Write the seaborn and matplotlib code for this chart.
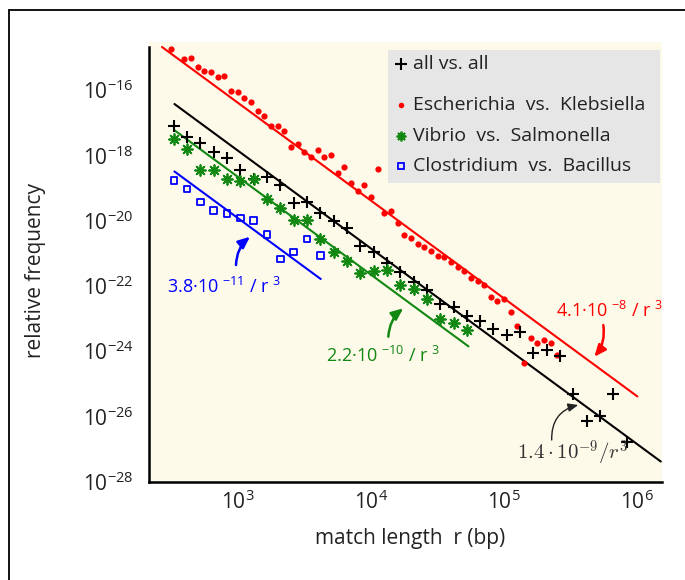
# match-length distributions between bacterial genomes, with 1/r^3 fits
import numpy as np
import pandas as pd
import seaborn as sns
import matplotlib.pyplot as plt
from matplotlib.lines import Line2D
from matplotlib.patches import Rectangle
from matplotlib.ticker import FixedLocator, LogLocator, LogFormatterSciNotation, NullFormatter

# log10(match length) and log10(relative frequency)
ek_logr = [2.50, 2.60, 2.65, 2.70, 2.75, 2.80, 2.85, 2.90, 2.95, 3.00,
           3.05, 3.10, 3.15, 3.20, 3.25, 3.30, 3.35, 3.40, 3.45, 3.50,
           3.55, 3.60, 3.65, 3.70, 3.75, 3.80, 3.85, 3.90, 3.95, 4.00,
           4.05, 4.10, 4.15, 4.20, 4.25, 4.30, 4.35, 4.40, 4.45, 4.50,
           4.55, 4.60, 4.65, 4.70, 4.75, 4.80, 4.85, 4.90, 4.95, 5.00,
           5.05, 5.10, 5.15, 5.20, 5.25, 5.30, 5.35, 5.40]
ek_logf = [-14.74, -15.06, -15.02, -15.29, -15.41, -15.44, -15.59, -15.56, -16.02, -16.06,
           -16.24, -16.37, -16.63, -16.80, -17.10, -17.10, -17.26, -17.76, -17.66, -17.90,
           -18.05, -17.84, -18.04, -17.99, -18.55, -18.37, -18.86, -19.09, -18.91, -19.27,
           -18.43, -19.77, -19.70, -20.08, -20.43, -20.53, -20.73, -20.82, -20.92, -21.08,
           -21.13, -21.28, -21.43, -21.55, -21.77, -21.85, -21.97, -22.34, -22.47, -22.40,
           -22.80, -23.22, -24.35, -23.61, -23.74, -23.66, -23.76, -24.12]

all_logr = [2.52, 2.62, 2.72, 2.82, 2.92, 3.02, 3.12, 3.22, 3.32, 3.42,
            3.52, 3.62, 3.72, 3.82, 3.92, 4.02, 4.12, 4.22, 4.32, 4.42,
            4.52, 4.62, 4.72, 4.82, 4.92, 5.02, 5.12, 5.22, 5.32, 5.42,
            5.52, 5.62, 5.72, 5.82, 5.92]
all_logf = [-17.09, -17.43, -17.63, -17.90, -18.08, -18.45, -18.73, -18.66, -18.90, -19.45,
            -19.42, -19.77, -20.02, -20.24, -20.79, -20.96, -21.29, -21.59, -21.87, -22.13,
            -22.57, -22.66, -22.91, -23.09, -23.31, -23.51, -23.40, -24.07, -23.96, -24.15,
            -25.32, -26.14, -25.98, -25.32, -26.79]

vs_logr = [2.52, 2.62, 2.72, 2.82, 2.92, 3.02, 3.12, 3.22, 3.32, 3.42,
           3.52, 3.62, 3.72, 3.82, 3.92, 4.02, 4.12, 4.22, 4.32, 4.42,
           4.52, 4.62, 4.72]
vs_logf = [-17.51, -17.80, -18.45, -18.45, -18.74, -18.79, -18.73, -19.34, -19.62, -19.99,
           -19.97, -20.56, -20.95, -21.24, -21.62, -21.55, -21.51, -21.97, -22.10, -22.40,
           -23.02, -23.15, -23.35]

cb_logr = [2.52, 2.62, 2.72, 2.82, 2.92, 3.02, 3.12, 3.22, 3.32, 3.42, 3.52, 3.62]
cb_logf = [-18.78, -19.04, -19.43, -19.69, -19.78, -19.92, -20.00, -20.42, -21.17, -20.97,
           -20.56, -21.07]

# fitted c / r^3 lines: coefficient and r range as drawn
fit_coef = {"ek": 4.1e-8, "all": 1.4e-9, "vs": 2.2e-10, "cb": 1.2e-11}
fit_range = {"ek": [270, 1.0e6], "all": [335, 1.5e6], "vs": [335, 5.4e4], "cb": [335, 4.2e3]}

legend_labels = ["all vs. all", "Escherichia  vs.  Klebsiella",
                 "Vibrio  vs.  Salmonella", "Clostridium  vs.  Bacillus"]

RED, BLACK, GREEN, BLUE = "#ff0000", "#000000", "#118811", "#0000ff"

sns.set_style("white")
plt.rcParams["font.family"] = ["Open Sans", "DejaVu Sans"]
plt.rcParams["mathtext.fontset"] = "custom"
plt.rcParams["mathtext.rm"] = "Open Sans"
plt.rcParams["mathtext.it"] = "Open Sans:italic"
plt.rcParams["mathtext.bf"] = "Open Sans:bold"

fig = plt.figure(figsize=(6.85, 5.8), dpi=100)
ax = fig.add_axes([149 / 685, 1 - 481.7 / 580, 513 / 685, 440 / 580])
ax.set_facecolor("#fdfaea")


def frame(logr, logf):
    return pd.DataFrame({"r": 10 ** np.array(logr), "f": 10 ** np.array(logf)})


def fit_frame(key):
    r = np.array(fit_range[key])
    return pd.DataFrame({"r": r, "f": fit_coef[key] / r ** 3})


for key, col in [("ek", RED), ("all", BLACK), ("vs", GREEN), ("cb", BLUE)]:
    sns.lineplot(data=fit_frame(key), x="r", y="f", color=col, lw=1.5, ax=ax, zorder=2)

sns.scatterplot(data=frame(ek_logr, ek_logf), x="r", y="f", color=RED, s=20,
                linewidth=0, ax=ax, zorder=3)
sns.scatterplot(data=frame(all_logr, all_logf), x="r", y="f", color=BLACK, marker="+",
                s=75, linewidth=1.5, ax=ax, zorder=3)
sns.scatterplot(data=frame(vs_logr, vs_logf), x="r", y="f", color=GREEN, marker=(8, 2, 0),
                s=60, linewidth=1.3, ax=ax, zorder=3)
sns.scatterplot(data=frame(cb_logr, cb_logf), x="r", y="f", marker="s", s=22,
                facecolor="none", edgecolor=BLUE, linewidth=1.3, ax=ax, zorder=3)

ax.set_xscale("log")
ax.set_yscale("log")
ax.set_xlim(10 ** 2.334, 10 ** 6.185)
ax.set_ylim(1e-28, 10 ** -14.52)

# axes styling
sns.despine(ax=ax)
for side in ["left", "bottom"]:
    ax.spines[side].set_linewidth(1.8)
    ax.spines[side].set_color("black")
ax.spines["left"].set_bounds(1e-28, 10 ** -14.68)
ax.yaxis.set_major_locator(FixedLocator([10.0 ** e for e in range(-28, -15, 2)]))
ax.yaxis.set_major_formatter(LogFormatterSciNotation())
ax.yaxis.set_minor_locator(FixedLocator([]))
ax.xaxis.set_major_locator(LogLocator(base=10))
ax.xaxis.set_minor_locator(LogLocator(base=10, subs=np.arange(2, 10)))
ax.xaxis.set_minor_formatter(NullFormatter())
ax.tick_params(axis="both", which="major", direction="out", length=5, width=1.4,
               color="black", labelsize=15, labelcolor="#222222")
ax.tick_params(axis="y", which="major", pad=6)
ax.tick_params(axis="x", which="major", pad=1)
ax.tick_params(axis="x", which="minor", direction="out", length=3.5, width=1.2,
               color="black")
ax.set_xlabel("match length  r (bp)", fontsize=15, color="#222222")
ax.set_ylabel("relative frequency", fontsize=15, color="#222222")
ax.xaxis.set_label_coords(0.509, -0.105)
ax.yaxis.set_label_coords(-0.2, 0.48)
ax.grid(False)

# legend drawn by hand inside a grey box
ax.add_patch(Rectangle((0.466, 0.679), 0.530, 0.302, transform=ax.transAxes,
                       facecolor="#e6e6e6", edgecolor="none", zorder=4))
leg_y = [0.949, 0.856, 0.786, 0.718]
leg_marks = [dict(marker="+", color=BLACK, ms=8, mew=1.5),
             dict(marker="o", color=RED, ms=4, mew=0),
             dict(marker=(8, 2, 0), color=GREEN, ms=7, mew=1.3),
             dict(marker="s", color=BLUE, mfc="none", ms=5, mew=1.3)]
for y, lab, mk in zip(leg_y, legend_labels, leg_marks):
    ax.plot([0.491], [y], transform=ax.transAxes, ls="none", zorder=5, **mk)
    ax.text(0.515, y, lab, transform=ax.transAxes, fontsize=14, color="#222222",
            va="center", ha="left", zorder=5)

# fit labels with curved arrows
fit_text = [
    ("4.1·10 $^{-8}$ / r $^{3}$", RED, (0.793, 0.388), (0.8856, 0.356), (0.8681, 0.284)),
    ("2.2·10 $^{-10}$ / r $^{3}$", GREEN, (0.345, 0.285), (0.4665, 0.3295), (0.4957, 0.394)),
    ("3.8·10 $^{-11}$ / r $^{3}$", BLUE, (0.0345, 0.443), (0.1696, 0.4925), (0.1969, 0.5568)),
]
for txt, col, pos, tail, head in fit_text:
    ax.text(pos[0], pos[1], txt, transform=ax.transAxes, color=col, fontsize=13,
            ha="left", va="center", zorder=5)
    ax.annotate("", xy=head, xytext=tail, xycoords="axes fraction",
                textcoords="axes fraction", zorder=5,
                arrowprops=dict(arrowstyle="-|>,head_length=0.7,head_width=0.3",
                                color=col, lw=1.8, shrinkA=0, shrinkB=0,
                                connectionstyle="arc3,rad=-0.22"))

ax.text(0.717, 0.0645, r"$1.4\cdot10^{-9}/r^3$", transform=ax.transAxes,
        color="#333333", fontsize=15, math_fontfamily="cm", ha="left", va="center", zorder=5)
ax.annotate("", xy=(0.8367, 0.1743), xytext=(0.785, 0.0948), xycoords="axes fraction",
            textcoords="axes fraction", zorder=5,
            arrowprops=dict(arrowstyle="-|>,head_length=0.6,head_width=0.25",
                            color="#222222", lw=1.0, shrinkA=0, shrinkB=0,
                            connectionstyle="arc3,rad=-0.4"))

# outer frame (left and top edges only, the rest is cut off)
fig.add_artist(Line2D([9 / 685, 9 / 685], [0, 1 - 10 / 580], transform=fig.transFigure,
                      color="black", lw=1.3))
fig.add_artist(Line2D([9 / 685, 1], [1 - 10 / 580, 1 - 10 / 580], transform=fig.transFigure,
                      color="black", lw=1.3))

fig.savefig("out.png", dpi=100)
